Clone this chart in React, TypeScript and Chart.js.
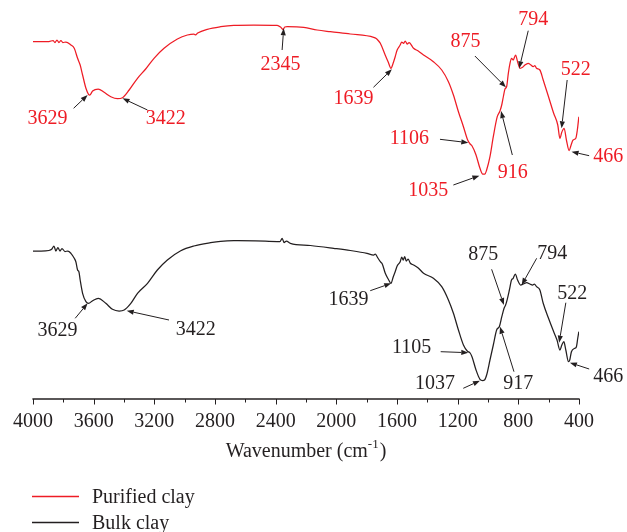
import React, { useEffect, useRef } from 'react';
import { Chart, registerables } from 'chart.js';

Chart.register(...registerables);

// ---------------- data ----------------
const xTicks = [4000, 3600, 3200, 2800, 2400, 2000, 1600, 1200, 800, 400];

const purifiedWn = [4000, 3947, 3895, 3868, 3855, 3842, 3829, 3816, 3803, 3783, 3750, 3728, 3706, 3689, 3673, 3651, 3634, 3625, 3607, 3570, 3531, 3487, 3443, 3410, 3366, 3311, 3257, 3202, 3136, 3048, 2982, 2939, 2928, 2914, 2851, 2763, 2676, 2544, 2390, 2368, 2351, 2340, 2324, 2215, 2127, 2040, 1908, 1754, 1737, 1724, 1710, 1678, 1658, 1640, 1625, 1612, 1599, 1579, 1569, 1557, 1546, 1533, 1520, 1491, 1460, 1425, 1360, 1305, 1261, 1228, 1195, 1162, 1134, 1118, 1105, 1079, 1053, 1035, 1020, 1009, 987, 965, 939, 921, 908, 898, 888, 877, 866, 855, 845, 834, 818, 805, 789, 772, 757, 735, 717, 702, 691, 680, 658, 636, 601, 567, 540, 526, 513, 498, 483, 465, 454, 439, 421, 411, 401];
const purifiedT = [357.3, 357.5, 357.5, 358.5, 356.5, 359, 356.5, 358.5, 356.5, 357, 354, 350.7, 340.7, 334, 324, 310.7, 304.7, 304, 308, 310, 306.7, 302.3, 300.3, 301.3, 309, 320.7, 330, 340.7, 350.7, 360, 364, 365, 364.2, 366, 369.7, 372.3, 373.7, 374, 373.7, 372, 369.5, 372, 372.3, 371.7, 369, 367.3, 365, 361.7, 360.5, 358.5, 355.7, 344, 337, 330.7, 336, 342.3, 349, 354, 357, 355.7, 358, 355, 356.5, 350.7, 348, 344, 337.3, 329, 317.3, 304, 287.3, 272.3, 259, 255, 253, 244, 230.7, 225, 225, 229, 242.3, 262.3, 282.3, 288, 295, 303, 310, 312.5, 325.7, 335.7, 340.7, 339, 344, 337.3, 330.7, 331.7, 334, 335.7, 334, 332.3, 333.5, 330.7, 329, 319, 302.3, 285.7, 274, 260.7, 267, 270.7, 259, 248.3, 253, 259, 260.7, 269, 282.3];

const bulkWn = [4000, 3947, 3895, 3875, 3862, 3849, 3836, 3822, 3809, 3789, 3770, 3750, 3728, 3717, 3706, 3697, 3689, 3673, 3651, 3634, 3607, 3570, 3520, 3476, 3432, 3399, 3355, 3311, 3245, 3180, 3114, 3026, 2939, 2829, 2763, 2676, 2533, 2390, 2372, 2357, 2345, 2329, 2303, 2171, 2018, 1908, 1798, 1754, 1743, 1730, 1710, 1697, 1678, 1658, 1640, 1625, 1612, 1599, 1579, 1569, 1559, 1549, 1539, 1526, 1513, 1491, 1460, 1425, 1360, 1305, 1261, 1228, 1195, 1162, 1137, 1118, 1105, 1079, 1053, 1035, 1023, 1009, 987, 965, 943, 925, 909, 894, 884, 877, 859, 845, 834, 820, 805, 785, 767, 745, 724, 706, 694, 680, 658, 636, 601, 567, 545, 526, 513, 500, 487, 469, 461, 450, 428, 417, 408, 401];
const bulkT = [148, 148, 148.5, 150, 153, 148, 151.5, 148, 150.5, 147.5, 148, 145.7, 140.7, 137, 129, 127, 119, 105.7, 97.3, 95.7, 98.3, 100.7, 95.7, 89.7, 88, 89, 95.7, 105.7, 115.7, 129, 139, 148.3, 153, 156.3, 157.7, 158.3, 158.2, 157.5, 157.5, 160.7, 156.5, 158, 155.7, 153.5, 150.7, 148.5, 145.7, 144, 145, 142, 137.3, 135, 126, 120, 115.7, 122, 127.3, 133, 137.3, 142, 139, 142.5, 138, 140, 136, 134, 131, 125.7, 120.7, 112.3, 99, 85.7, 69, 54, 48, 46, 42, 29, 19.7, 18.5, 19, 24, 39, 54, 69, 72.5, 82.3, 90.7, 94, 97.3, 109, 119, 120.7, 125, 119, 114, 115, 116.3, 115, 114, 115, 112.3, 109, 95.7, 80.7, 67.3, 59, 49, 54, 57.3, 49, 37.3, 39, 47.3, 50.7, 52.3, 61, 67.3];

// peak annotations: label text, arrow-tip wavenumber and arrow-tip value
const purifiedPeakLabels = ['3629', '3422', '2345', '1639', '1106', '1035', '916', '875', '794', '522', '466'];
const purifiedPeakWn = [3640, 3410, 2347, 1634, 1130, 1057, 914, 882, 794, 515, 449];
const purifiedPeakT = [304, 300.7, 370.7, 329.7, 256.3, 223.3, 288, 311.7, 330.7, 270.7, 247.3];

const bulkPeakLabels = ['3629', '3422', '1639', '1105', '1037', '917', '875', '794', '522', '466'];
const bulkPeakWn = [3640, 3382, 1638, 1130, 1053, 921, 895, 778, 531, 460];
const bulkPeakT = [95.7, 88.3, 115.7, 46.3, 18.3, 72.3, 94, 114, 56.3, 36.3];

// ---------------- layout / style ----------------
const RED = '#ee1c25';
const INK = '#231f20';
const FONT = '"Liberation Serif", "Times New Roman", serif';

// [labelDx, labelDy, tailDx, tailDy] relative to arrow tip (px)
const purifiedOffsets = [
  [-40, 23.3, -14, 13.3],
  [43.3, 20.7, 25, 11.7],
  [-3.3, 36.7, -1.6, 21.7],
  [-38.4, 29, -18.4, 18],
  [-59, -4.4, -28.3, -3.4],
  [-51, 15, -26, 9.3],
  [11.7, 61.7, 11.3, 44],
  [-40.3, -45.6, -31, -31.3],
  [14, -48.3, 9, -37.6],
  [14.3, -59, 5.6, -48.3],
  [36.6, 5, 17.6, 4],
];
const bulkOffsets = [
  [-30, 27.4, -12.4, 15],
  [69, 18.6, 42.3, 9.3],
  [-42.7, 16.7, -21, 7.4],
  [-56.6, -5, -27.6, -1],
  [-45, 3.3, -16.7, 7.6],
  [18.3, 56.6, 14, 45],
  [-20.7, -50, -12.3, -35.7],
  [30.6, -31.7, 15, -26.7],
  [13, -49.4, 6.7, -40],
  [38.3, 14, 19.3, 6.3],
];

function drawArrow(ctx: CanvasRenderingContext2D, x0: number, y0: number, x1: number, y1: number) {
  const ang = Math.atan2(y1 - y0, x1 - x0);
  const headLen = 7;
  const headW = 2.6;
  const bx = x1 - headLen * Math.cos(ang);
  const by = y1 - headLen * Math.sin(ang);
  ctx.strokeStyle = INK;
  ctx.fillStyle = INK;
  ctx.lineWidth = 1;
  ctx.beginPath();
  ctx.moveTo(x0, y0);
  ctx.lineTo(bx, by);
  ctx.stroke();
  ctx.beginPath();
  ctx.moveTo(x1, y1);
  ctx.lineTo(bx + headW * Math.sin(ang), by - headW * Math.cos(ang));
  ctx.lineTo(bx - headW * Math.sin(ang), by + headW * Math.cos(ang));
  ctx.closePath();
  ctx.fill();
}

const decorPlugin = {
  id: 'decor',
  afterDraw(chart: any) {
    const { ctx, chartArea, scales } = chart;
    const xs = scales.x;
    const ys = scales.y;
    ctx.save();
    // axis line
    const yAxis = chartArea.bottom;
    ctx.strokeStyle = INK;
    ctx.lineWidth = 1.3;
    ctx.beginPath();
    ctx.moveTo(xs.getPixelForValue(4000) - 0.6, yAxis);
    ctx.lineTo(xs.getPixelForValue(400) + 0.6, yAxis);
    ctx.stroke();
    // major + minor tick marks
    ctx.lineWidth = 1;
    for (let v = 4000; v >= 400; v -= 200) {
      const px = Math.round(xs.getPixelForValue(v)) + 0.5;
      const len = v % 400 === 0 ? 5.5 : 3.5;
      ctx.beginPath();
      ctx.moveTo(px, yAxis);
      ctx.lineTo(px, yAxis + len);
      ctx.stroke();
    }
    // axis title with superscript
    const cx = (chartArea.left + chartArea.right) / 2;
    const ty = yAxis + 53;
    ctx.fillStyle = INK;
    ctx.textBaseline = 'middle';
    ctx.textAlign = 'left';
    ctx.font = `20px ${FONT}`;
    const main = 'Wavenumber (cm';
    const sup = '-1';
    const close = ')';
    const wMain = ctx.measureText(main).width;
    const wClose = ctx.measureText(close).width;
    ctx.font = `13px ${FONT}`;
    const wSup = ctx.measureText(sup).width;
    const total = wMain + wSup + 1 + wClose;
    let tx = cx - total / 2;
    ctx.font = `20px ${FONT}`;
    ctx.fillText(main, tx, ty);
    tx += wMain;
    ctx.font = `13px ${FONT}`;
    ctx.fillText(sup, tx, ty - 7);
    tx += wSup + 1;
    ctx.font = `20px ${FONT}`;
    ctx.fillText(close, tx, ty);

    // annotations
    const drawSet = (labels: string[], wn: number[], t: number[], offs: number[][], color: string) => {
      labels.forEach((lab, i) => {
        const px = xs.getPixelForValue(wn[i]);
        const py = ys.getPixelForValue(t[i]);
        const [ldx, ldy, tdx, tdy] = offs[i];
        drawArrow(ctx, px + tdx, py + tdy, px, py);
        ctx.fillStyle = color;
        ctx.font = `20px ${FONT}`;
        ctx.textAlign = 'center';
        ctx.textBaseline = 'middle';
        ctx.fillText(lab, px + ldx, py + ldy);
      });
    };
    drawSet(purifiedPeakLabels, purifiedPeakWn, purifiedPeakT, purifiedOffsets, RED);
    drawSet(bulkPeakLabels, bulkPeakWn, bulkPeakT, bulkOffsets, INK);

    // legend
    const items = chart.data.datasets.map((d: any) => ({ text: d.label, color: d.borderColor }));
    items.forEach((it: any, i: number) => {
      const ly = yAxis + 97.5 + i * 26;
      ctx.strokeStyle = it.color;
      ctx.lineWidth = 1.3;
      ctx.beginPath();
      ctx.moveTo(32, ly);
      ctx.lineTo(79, ly);
      ctx.stroke();
      ctx.fillStyle = INK;
      ctx.font = `20px ${FONT}`;
      ctx.textAlign = 'left';
      ctx.textBaseline = 'middle';
      ctx.fillText(it.text, 92, ly + 1);
    });
    ctx.restore();
  },
};

export default function App() {
  const ref = useRef<HTMLCanvasElement>(null);
  useEffect(() => {
    document.body.style.margin = '0';
    const canvas = ref.current;
    if (!canvas) return;
    const chart = new Chart(canvas, {
      type: 'line',
      data: {
        datasets: [
          {
            label: 'Purified clay',
            data: purifiedWn.map((x, i) => ({ x, y: purifiedT[i] })),
            borderColor: RED,
            borderWidth: 1.25,
            pointRadius: 0,
            cubicInterpolationMode: 'monotone',
            fill: false,
          },
          {
            label: 'Bulk clay',
            data: bulkWn.map((x, i) => ({ x, y: bulkT[i] })),
            borderColor: INK,
            borderWidth: 1.25,
            pointRadius: 0,
            cubicInterpolationMode: 'monotone',
            fill: false,
          },
        ],
      },
      options: {
        responsive: false,
        animation: false,
        layout: { padding: { left: 32, right: 48, top: 0, bottom: 0 } },
        plugins: { legend: { display: false }, tooltip: { enabled: false } },
        scales: {
          x: {
            type: 'linear',
            reverse: true,
            min: 400,
            max: 4000,
            afterBuildTicks: (s: any) => {
              s.ticks = xTicks.map((v) => ({ value: v }));
            },
            ticks: {
              autoSkip: false,
              maxRotation: 0,
              padding: 13,
              color: INK,
              font: { family: FONT, size: 20, lineHeight: 1 },
              callback: (v: any) => String(v),
            },
            grid: { display: false, drawTicks: false, tickLength: 0 },
            border: { display: false },
            afterFit: (s: any) => {
              s.height = 133;
            },
          },
          y: { display: false, min: 0, max: 399 },
        },
      },
      plugins: [decorPlugin],
    } as any);
    return () => chart.destroy();
  }, []);
  return <canvas ref={ref} width={627} height={532} style={{ display: 'block' }} />;
}
